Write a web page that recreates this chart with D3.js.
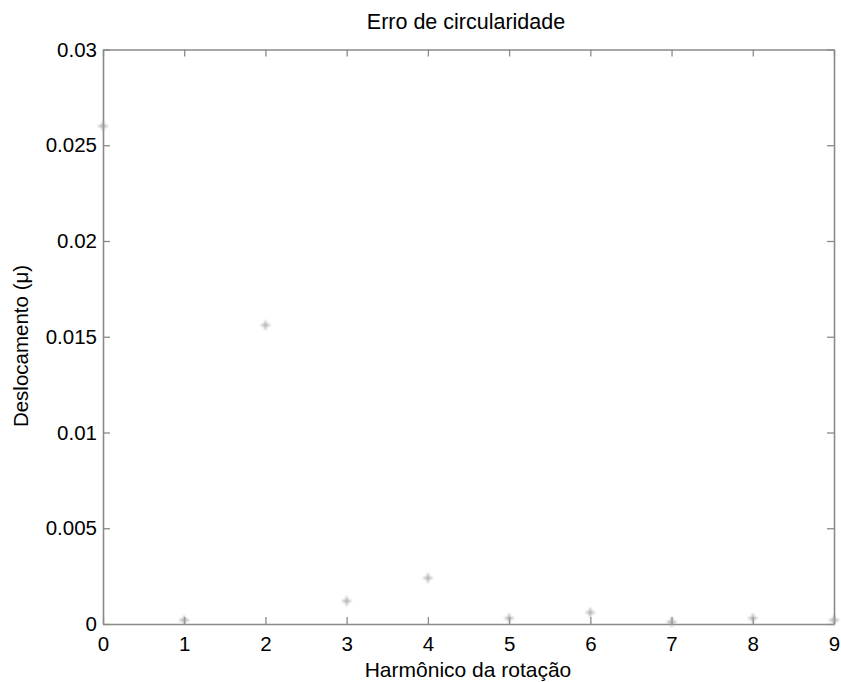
<!DOCTYPE html>
<html>
<head>
<meta charset="utf-8">
<script src="https://cdn.jsdelivr.net/npm/d3@7"></script>
<style>
  html, body { margin: 0; padding: 0; background: #fff; }
  svg text { font-family: "Liberation Sans", Arial, sans-serif; fill: #000; }
</style>
</head>
<body>
<svg id="chart" width="841" height="682"></svg>
<script>
// Harmonic order and circularity-error amplitude
const harmonics = [0, 1, 2, 3, 4, 5, 6, 7, 8, 9];
const displacement = [0.0260, 0.0002, 0.0156, 0.0012, 0.0024, 0.0003, 0.0006, 0.0001, 0.0003, 0.0002];
const xTicks = [0, 1, 2, 3, 4, 5, 6, 7, 8, 9];
const yTicks = [0, 0.005, 0.01, 0.015, 0.02, 0.025, 0.03];
const yTickLabels = ["0", "0.005", "0.01", "0.015", "0.02", "0.025", "0.03"];

const titleText = "Erro de circularidade";
const xLabelText = "Harmônico da rotação";
const yLabelText = "Deslocamento (\u03bc)";

const W = 841, H = 682;
const m = { left: 103, right: 841 - 834, top: 49.5, bottom: 682 - 624 };

const svg = d3.select("#chart");

const x = d3.scaleLinear().domain([0, 9]).range([m.left, W - m.right]);
const y = d3.scaleLinear().domain([0, 0.03]).range([H - m.bottom, m.top]);

const axisColor = "#8a8a8a";
const tickLen = 7;

// soft blur for the markers
const defs = svg.append("defs");
defs.append("filter").attr("id", "soft")
  .attr("x", "-50%").attr("y", "-50%").attr("width", "200%").attr("height", "200%")
  .append("feGaussianBlur").attr("stdDeviation", 1.0);

// axes (ticks inward on all four sides)
const fmtY = (d, i) => yTickLabels[i];

const gBottom = svg.append("g")
  .attr("transform", `translate(0,${y(0)})`)
  .call(d3.axisBottom(x).tickValues(xTicks).tickSizeInner(-tickLen).tickSizeOuter(0).tickPadding(12).tickFormat(d3.format("d")));
const gTop = svg.append("g")
  .attr("transform", `translate(0,${y(0.03)})`)
  .call(d3.axisTop(x).tickValues(xTicks).tickSizeInner(-tickLen).tickSizeOuter(0).tickFormat(""));
const gLeft = svg.append("g")
  .attr("transform", `translate(${x(0)},0)`)
  .call(d3.axisLeft(y).tickValues(yTicks).tickSizeInner(-tickLen).tickSizeOuter(0).tickPadding(6).tickFormat(fmtY));
const gRight = svg.append("g")
  .attr("transform", `translate(${x(9)},0)`)
  .call(d3.axisRight(y).tickValues(yTicks).tickSizeInner(-tickLen).tickSizeOuter(0).tickFormat(""));

[gBottom, gTop, gLeft, gRight].forEach(g => {
  g.select(".domain").attr("stroke", axisColor).attr("stroke-width", 1.6);
  g.selectAll(".tick line").attr("stroke", axisColor).attr("stroke-width", 1.3);
  g.selectAll(".tick text").attr("font-size", 20.5).attr("fill", "#000")
    .attr("font-family", "'Liberation Sans', Arial, sans-serif");
});

// markers: '+' symbols
const plusSize = 4.5;
const pts = svg.append("g").attr("filter", "url(#soft)");
harmonics.forEach((h, i) => {
  const cx = x(h), cy = y(displacement[i]);
  pts.append("path")
    .attr("d", `M${cx - plusSize},${cy}H${cx + plusSize}M${cx},${cy - plusSize}V${cy + plusSize}`)
    .attr("stroke", "#a0a0a0")
    .attr("stroke-width", 1.6)
    .attr("fill", "none");
});

// title and axis labels
svg.append("text")
  .attr("x", 466).attr("y", 29)
  .attr("text-anchor", "middle")
  .attr("font-size", 21.5)
  .text(titleText);

svg.append("text")
  .attr("x", 468).attr("y", 677)
  .attr("text-anchor", "middle")
  .attr("font-size", 21)
  .text(xLabelText);

svg.append("text")
  .attr("transform", "translate(28,346) rotate(-90)")
  .attr("text-anchor", "middle")
  .attr("font-size", 20.5)
  .text(yLabelText);
</script>
</body>
</html>
